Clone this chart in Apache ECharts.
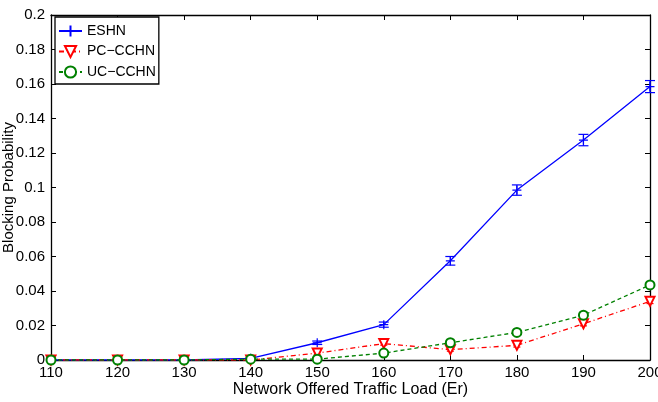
<!DOCTYPE html>
<html><head><meta charset="utf-8">
<script src="https://cdn.jsdelivr.net/npm/echarts@6/dist/echarts.min.js"></script>
<style>html,body{margin:0;padding:0;background:#fff}#c{width:658px;height:402px}</style>
</head><body><div id="c"></div>
<script>
var loads = [110, 120, 130, 140, 150, 160, 170, 180, 190, 200];
var eshn = [0, 0, 0, 0.001, 0.010, 0.0205, 0.0575, 0.0985, 0.1275, 0.1585];
var eshnErr = [0, 0, 0, 0.0006, 0.001, 0.0015, 0.0025, 0.003, 0.0033, 0.0035];
var pc = [0, 0, 0, 0, 0.004, 0.0095, 0.006, 0.0085, 0.021, 0.034];
var pcErr = [0, 0, 0, 0, 0.0008, 0.0009, 0.0009, 0.001, 0.0012, 0.0013];
var uc = [0, 0, 0, 0.0005, 0.0005, 0.004, 0.010, 0.016, 0.026, 0.0435];
var ucErr = [0, 0, 0, 0, 0.0006, 0.0008, 0.0009, 0.001, 0.0012, 0.0013];
var yTicks = [0, 0.02, 0.04, 0.06, 0.08, 0.1, 0.12, 0.14, 0.16, 0.18, 0.2];

var FONT = '"Liberation Sans", Arial, sans-serif';
function pairs(v){ return loads.map(function(x,i){ return [x, v[i]]; }); }
function errData(v,e){ return loads.map(function(x,i){ return [x, v[i]-e[i], v[i]+e[i]]; }); }
function errSeries(v,e,color,cap){
  return {
    type:'custom', xAxisIndex:0, yAxisIndex:0, silent:true, z:3,
    data: errData(v,e),
    renderItem: function(params, api){
      var lo = api.coord([api.value(0), api.value(1)]);
      var hi = api.coord([api.value(0), api.value(2)]);
      var st = {stroke: color, lineWidth: 1.2};
      return {type:'group', children:[
        {type:'line', shape:{x1:lo[0],y1:lo[1],x2:hi[0],y2:hi[1]}, style:st},
        {type:'line', shape:{x1:lo[0]-cap,y1:lo[1],x2:lo[0]+cap,y2:lo[1]}, style:st},
        {type:'line', shape:{x1:hi[0]-cap,y1:hi[1],x2:hi[0]+cap,y2:hi[1]}, style:st}
      ]};
    }
  };
}
var axisCommon = {
  axisLine:{show:true, onZero:false, lineStyle:{color:'#000', width:1.3}},
  axisTick:{show:true, inside:true, length:5, lineStyle:{color:'#000', width:1}},
  splitLine:{show:false}
};
var chart = echarts.init(document.getElementById('c'));
chart.setOption({
  animation:false,
  textStyle:{fontFamily:FONT},
  grid:{left:51, right:8, top:15, bottom:42, containLabel:false, outerBoundsMode:'none'},
  legend:{
    show:true, orient:'vertical', left:55, top:17,
    backgroundColor:'#fff', borderColor:'#000', borderWidth:1.3,
    padding:[7,3,5,3], itemGap:6.5, itemWidth:23, itemHeight:14,
    textStyle:{fontFamily:FONT, fontSize:14, color:'#000'},
    data:['ESHN','PC\u2212CCHN','UC\u2212CCHN']
  },
  xAxis:[
    Object.assign({type:'value', min:110, max:200, interval:10, position:'bottom',
      name:'Network Offered Traffic Load (Er)', nameLocation:'middle', nameGap:22, nameMoveOverlap:false,
      nameTextStyle:{fontFamily:FONT, fontSize:16, color:'#000'},
      axisLabel:{color:'#000', fontSize:15, fontFamily:FONT, margin:5}}, axisCommon),
    Object.assign({type:'value', min:110, max:200, interval:10, position:'top',
      axisLabel:{show:false}}, axisCommon)
  ],
  yAxis:[
    Object.assign({type:'value', min:0, max:0.2, interval:0.02, position:'left',
      name:'Blocking Probability', nameLocation:'middle', nameGap:35, nameRotate:90, nameMoveOverlap:false,
      nameTextStyle:{fontFamily:FONT, fontSize:15, color:'#000'},
      axisLabel:{color:'#000', fontSize:15, fontFamily:FONT, margin:6,
        formatter:function(v){ var i = Math.round(v/0.02); return yTicks[i] === undefined ? '' : String(yTicks[i]); }}}, axisCommon),
    Object.assign({type:'value', min:0, max:0.2, interval:0.02, position:'right',
      axisLabel:{show:false}}, axisCommon)
  ],
  series:[
    {name:'ESHN', type:'line', data:pairs(eshn), z:4,
      symbol:'path://M0,5L10,5M5,0L5,10', symbolSize:9,
      lineStyle:{color:'#0000ff', width:1.3},
      itemStyle:{color:'#0000ff', borderColor:'#0000ff', borderWidth:1.2}},
    {name:'PC\u2212CCHN', type:'line', data:pairs(pc), z:4,
      symbol:'emptyTriangle', symbolRotate:180, symbolSize:9,
      lineStyle:{color:'#ff0000', width:1.3, type:[5,3,1,3]},
      itemStyle:{color:'#ff0000', borderColor:'#ff0000', borderWidth:1.2}},
    {name:'UC\u2212CCHN', type:'line', data:pairs(uc), z:4,
      symbol:'emptyCircle', symbolSize:9,
      lineStyle:{color:'#008000', width:1.3, type:[4,3]},
      itemStyle:{color:'#008000', borderColor:'#008000', borderWidth:1.2}},
    errSeries(eshn, eshnErr, '#0000ff', 5),
    errSeries(pc, pcErr, '#ff0000', 3.5),
    errSeries(uc, ucErr, '#008000', 3.5)
  ]
});
</script></body></html>
